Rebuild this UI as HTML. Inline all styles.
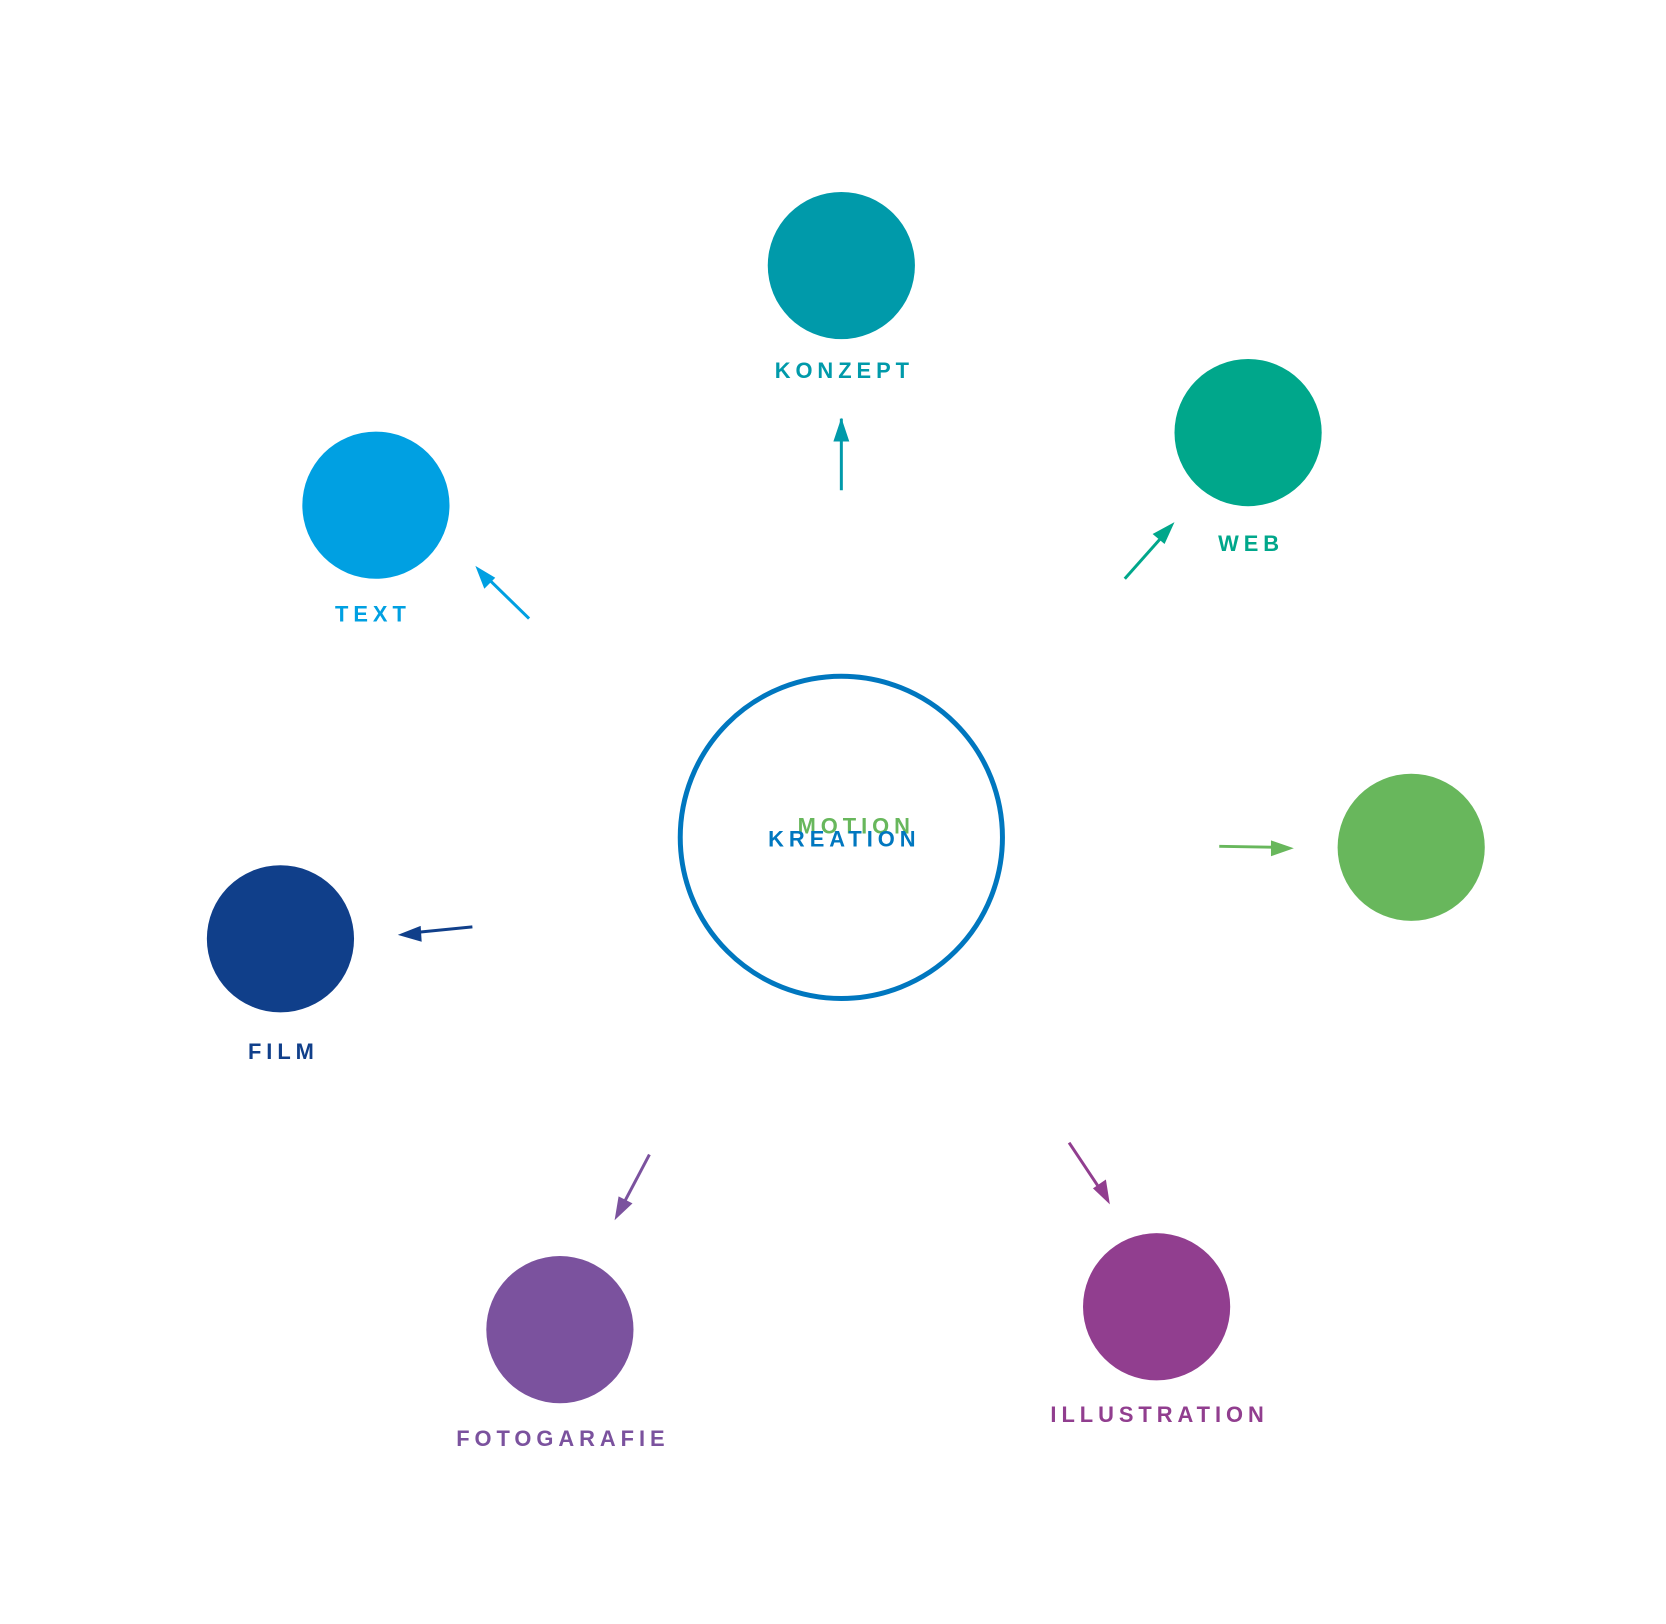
<!DOCTYPE html>
<html><head><style>html,body{margin:0;padding:0;background:#fff}svg{display:block}text{font-family:"Liberation Sans",sans-serif;font-weight:bold;font-size:22px;letter-spacing:5px;text-anchor:middle}</style></head>
<body>
<svg width="1666" height="1624" viewBox="0 0 1666 1624" xmlns="http://www.w3.org/2000/svg">
<g transform="scale(0.9945)">
<circle cx="846" cy="842" r="162" fill="none" stroke="#0077bf" stroke-width="5"/>
<circle cx="846" cy="267" r="74" fill="#009aaa"/>
<circle cx="1255" cy="435" r="74" fill="#00a78b"/>
<circle cx="378" cy="508" r="74" fill="#00a0e2"/>
<circle cx="1419" cy="852" r="74" fill="#68b75c"/>
<circle cx="282" cy="944" r="74" fill="#103f8a"/>
<circle cx="563" cy="1337" r="74" fill="#7b529e"/>
<circle cx="1163" cy="1314" r="74" fill="#913e8f"/>
<g stroke-width="3" fill="none">
<line x1="846" y1="493" x2="846" y2="421" stroke="#009aaa"/>
<path d="M846,420 l-8,24 h16z" fill="#009aaa" stroke="none"/>
<line x1="1131" y1="582" x2="1171" y2="537" stroke="#00a78b"/>
<path d="M1181,525 l-22,12 l12,10z" fill="#00a78b" stroke="none"/>
<line x1="532" y1="622" x2="490" y2="581" stroke="#00a0e2"/>
<path d="M478,569 l9,23 l11,-11z" fill="#00a0e2" stroke="none"/>
<line x1="1226" y1="851" x2="1286" y2="852" stroke="#68b75c"/>
<path d="M1301,853 l-23,-8 v16z" fill="#68b75c" stroke="none"/>
<line x1="475" y1="932" x2="414" y2="938" stroke="#103f8a"/>
<path d="M400,940 l24,7 l-1,-16z" fill="#103f8a" stroke="none"/>
<line x1="653" y1="1161" x2="625" y2="1214" stroke="#7b529e"/>
<path d="M618,1227 l18,-17 l-14,-7z" fill="#7b529e" stroke="none"/>
<line x1="1075" y1="1149" x2="1107" y2="1197" stroke="#913e8f"/>
<path d="M1116,1211 l-4,-25 l-13,9z" fill="#913e8f" stroke="none"/>
</g>
<text x="849" y="380" fill="#009aaa">KONZEPT</text>
<text x="1258" y="554" fill="#00a78b">WEB</text>
<text x="375" y="625" fill="#00a0e2">TEXT</text>
<text x="285" y="1065" fill="#103f8a">FILM</text>
<text x="566" y="1454" fill="#7b529e">FOTOGARAFIE</text>
<text x="1166" y="1430" fill="#913e8f">ILLUSTRATION</text>
<text x="861" y="838" fill="#68b75c">MOTION</text>
<text x="849" y="851" fill="#0077bf">KREATION</text>
</g>
</svg>
</body></html>
